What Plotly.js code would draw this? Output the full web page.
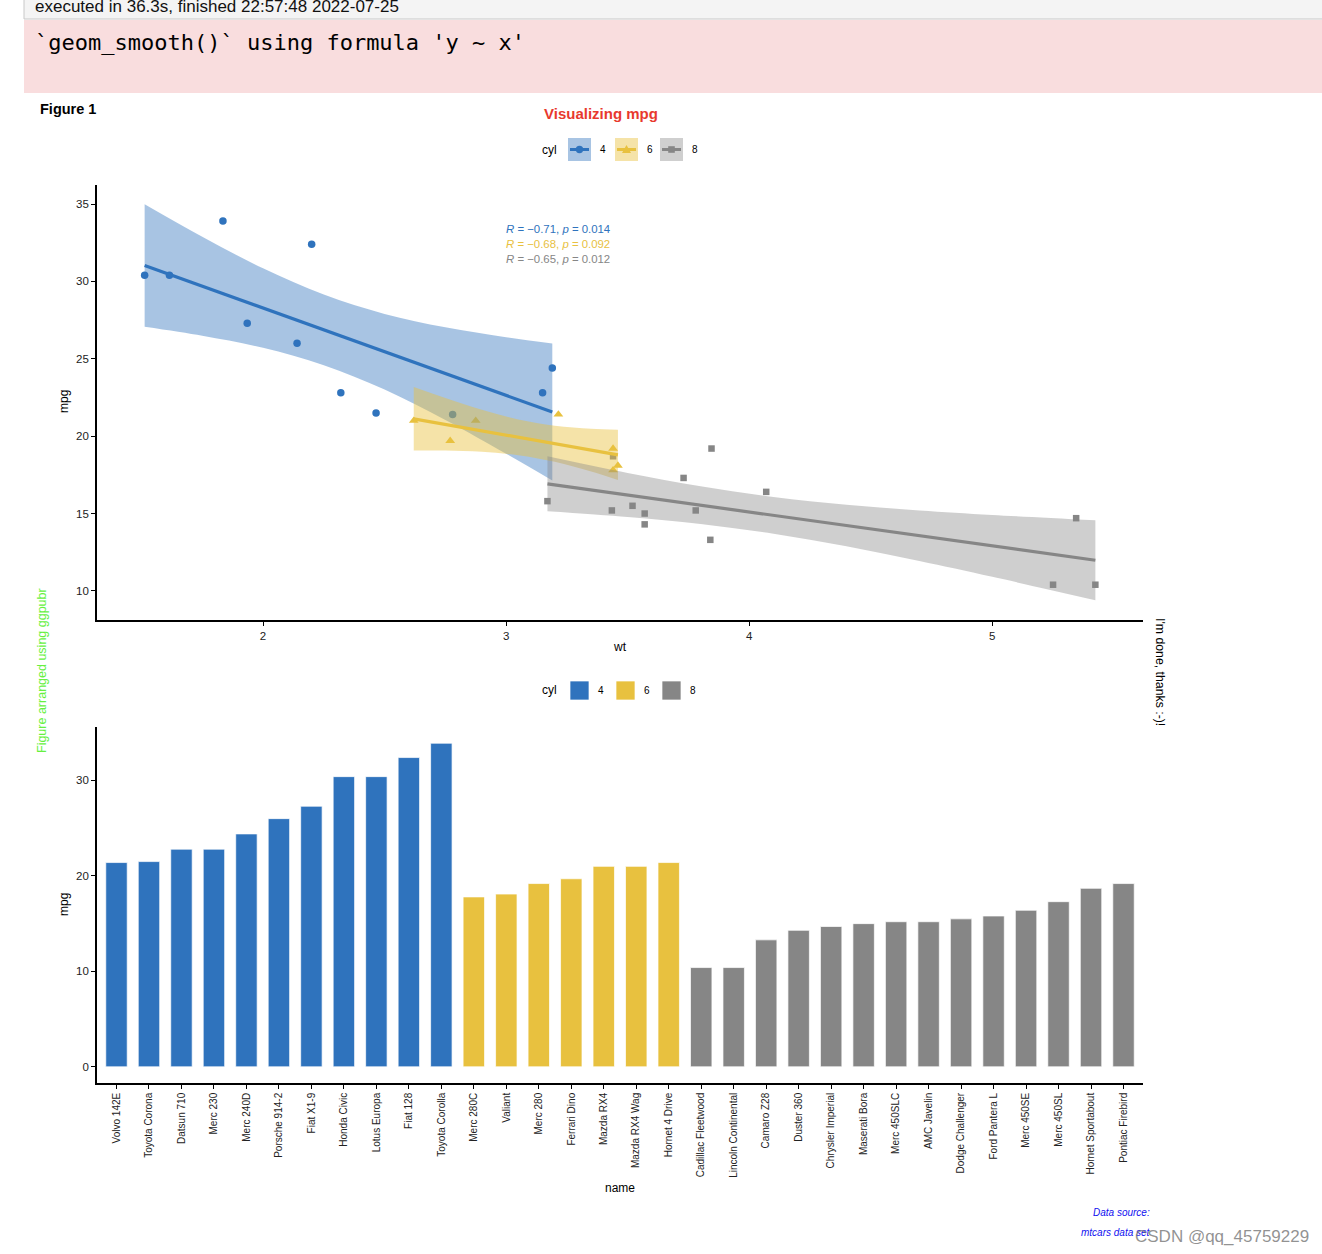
<!DOCTYPE html>
<html><head><meta charset="utf-8">
<script src="https://cdn.plot.ly/plotly-3.0.1.min.js"></script>
<style>html,body{margin:0;padding:0;background:#fff;overflow:hidden;} #chart{width:1322px;height:1254px;}</style>
</head><body><div id="chart"></div>
<script>
// ---- data (mtcars) ----
const wt4 = [2.320, 3.190, 3.150, 2.200, 1.615, 1.835, 2.465, 1.935, 2.140, 1.513, 2.780];
const mpg4 = [22.8, 24.4, 22.8, 32.4, 30.4, 33.9, 21.5, 27.3, 26.0, 30.4, 21.4];
const wt6 = [2.620, 2.875, 3.215, 3.460, 3.440, 3.440, 2.770];
const mpg6 = [21.0, 21.0, 21.4, 18.1, 19.2, 17.8, 19.7];
const wt8 = [3.440, 3.570, 4.070, 3.730, 3.780, 5.250, 5.424, 5.345, 3.520, 3.435, 3.840, 3.845, 3.170, 3.570];
const mpg8 = [18.7, 14.3, 16.4, 17.3, 15.2, 10.4, 10.4, 14.7, 15.5, 15.2, 13.3, 19.2, 15.8, 15.0];

// smooth lines and confidence bands
const fit4X = [1.513, 3.19], fit4Y = [31.03, 21.56];
const fit6X = [2.62, 3.46], fit6Y = [21.12, 18.79];
const fit8X = [3.17, 5.424], fit8Y = [16.92, 11.98];
const band4X = [1.513, 1.75, 2.0, 2.25, 2.5, 2.75, 3.0, 3.19];
const band4Lo = [27.07, 26.49, 25.71, 24.59, 23.01, 21.05, 18.87, 17.14];
const band4Hi = [34.98, 32.88, 30.85, 29.15, 27.90, 27.03, 26.39, 25.98];
const band6X = [2.62, 2.75, 2.9, 3.05, 3.2, 3.35, 3.46];
const band6Lo = [19.08, 19.07, 18.99, 18.77, 18.34, 17.71, 17.16];
const band6Hi = [23.17, 22.46, 21.70, 21.08, 20.68, 20.48, 20.42];
const band8X = [3.17, 3.5, 3.8, 4.1, 4.4, 4.7, 5.0, 5.424];
const band8Lo = [15.14, 14.77, 14.32, 13.69, 12.88, 11.93, 10.91, 9.40];
const band8Hi = [18.70, 17.62, 16.76, 16.07, 15.57, 15.20, 14.91, 14.56];
const statLabels = ["<i>R</i> = −0.71, <i>p</i> = 0.014", "<i>R</i> = −0.68, <i>p</i> = 0.092", "<i>R</i> = −0.65, <i>p</i> = 0.012"];

const carNames = ["Volvo 142E","Toyota Corona","Datsun 710","Merc 230","Merc 240D","Porsche 914-2","Fiat X1-9","Honda Civic","Lotus Europa","Fiat 128","Toyota Corolla","Merc 280C","Valiant","Merc 280","Ferrari Dino","Mazda RX4","Mazda RX4 Wag","Hornet 4 Drive","Cadillac Fleetwood","Lincoln Continental","Camaro Z28","Duster 360","Chrysler Imperial","Maserati Bora","Merc 450SLC","AMC Javelin","Dodge Challenger","Ford Pantera L","Merc 450SE","Merc 450SL","Hornet Sportabout","Pontiac Firebird"];
const carMpg = [21.4,21.5,22.8,22.8,24.4,26.0,27.3,30.4,30.4,32.4,33.9,17.8,18.1,19.2,19.7,21.0,21.0,21.4,10.4,10.4,13.3,14.3,14.7,15.0,15.2,15.2,15.5,15.8,16.4,17.3,18.7,19.2];
const carCyl = [4,4,4,4,4,4,4,4,4,4,4,6,6,6,6,6,6,6,8,8,8,8,8,8,8,8,8,8,8,8,8,8];
const cylLevels = [4, 6, 8];
const scatterTicks = [2, 3, 4, 5];
const mpgTicksTop = [10, 15, 20, 25, 30, 35];
const mpgTicksBar = [0, 10, 20, 30];

// ---- style ----
const COL = {4: '#2F73BD', 6: '#E8C13F', 8: '#868686'};
const BAND = {4: 'rgba(47,115,189,0.42)', 6: 'rgba(232,193,63,0.45)', 8: 'rgba(134,134,134,0.40)'};
const SYM = {4: 'circle', 6: 'triangle-up', 8: 'square'};
const MSZ = {4: 7.5, 6: 8.5, 8: 6.5};
const FONT = 'Liberation Sans, Arial, Helvetica, sans-serif';
const W = 1322, H = 1254;
const X = p => p / W, Y = p => 1 - p / H;

const pts = {4: [wt4, mpg4], 6: [wt6, mpg6], 8: [wt8, mpg8]};
const fits = {4: [fit4X, fit4Y], 6: [fit6X, fit6Y], 8: [fit8X, fit8Y]};
const bands = {4: [band4X, band4Lo, band4Hi], 6: [band6X, band6Lo, band6Hi], 8: [band8X, band8Lo, band8Hi]};

const traces = [];
cylLevels.forEach(c => {
  traces.push({type: 'scatter', mode: 'markers', x: pts[c][0], y: pts[c][1], xaxis: 'x', yaxis: 'y',
    marker: {color: COL[c], symbol: SYM[c], size: MSZ[c], line: {width: 0}}, showlegend: false, hoverinfo: 'x+y'});
});
cylLevels.forEach(c => {
  traces.push({type: 'scatter', mode: 'lines', x: bands[c][0], y: bands[c][1], xaxis: 'x', yaxis: 'y',
    line: {width: 0, shape: 'spline', color: 'rgba(0,0,0,0)'}, showlegend: false, hoverinfo: 'skip'});
  traces.push({type: 'scatter', mode: 'lines', x: bands[c][0], y: bands[c][2], xaxis: 'x', yaxis: 'y',
    fill: 'tonexty', fillcolor: BAND[c], line: {width: 0, shape: 'spline', color: 'rgba(0,0,0,0)'}, showlegend: false, hoverinfo: 'skip'});
  traces.push({type: 'scatter', mode: 'lines', x: fits[c][0], y: fits[c][1], xaxis: 'x', yaxis: 'y',
    line: {width: 3.2, color: COL[c]}, showlegend: false, hoverinfo: 'skip'});
});
cylLevels.forEach(c => {
  const xs = [], ys = [];
  carNames.forEach((n, i) => { if (carCyl[i] === c) { xs.push(n); ys.push(carMpg[i]); } });
  traces.push({type: 'bar', x: xs, y: ys, xaxis: 'x2', yaxis: 'y2', width: 0.66,
    marker: {color: COL[c], line: {color: 'rgba(255,255,255,0.7)', width: 1}}, showlegend: false});
});

const axBase = {showgrid: false, zeroline: false, showline: true, linecolor: '#000', linewidth: 1.6,
  ticks: 'outside', ticklen: 4, tickwidth: 1.4, tickcolor: '#000', mirror: false,
  tickfont: {family: FONT, size: 11.5, color: '#222'}};

const shapes = [];
const ann = [];
// header
shapes.push({type: 'rect', xref: 'paper', yref: 'paper', x0: X(24), x1: X(1330), y0: Y(-10), y1: Y(19),
  fillcolor: '#F4F4F4', line: {color: '#C8C8C8', width: 1}, layer: 'below'});
shapes.push({type: 'rect', xref: 'paper', yref: 'paper', x0: X(24), x1: X(1330), y0: Y(20), y1: Y(93),
  fillcolor: '#F9DDDE', line: {width: 0}, layer: 'below'});
ann.push({xref: 'paper', yref: 'paper', x: X(33), y: Y(6), xanchor: 'left', yanchor: 'middle', showarrow: false,
  text: 'executed in 36.3s, finished 22:57:48 2022-07-25', font: {family: FONT, size: 17, color: '#111'}});
ann.push({xref: 'paper', yref: 'paper', x: X(33), y: Y(43), xanchor: 'left', yanchor: 'middle', showarrow: false,
  text: '`geom_smooth()` using formula \'y ~ x\'', font: {family: 'DejaVu Sans Mono, monospace', size: 22, color: '#000'}});
// titles
ann.push({xref: 'paper', yref: 'paper', x: X(38), y: Y(109), xanchor: 'left', yanchor: 'middle', showarrow: false,
  text: '<b>Figure 1</b>', font: {family: FONT, size: 14.5, color: '#000'}});
ann.push({xref: 'paper', yref: 'paper', x: X(601), y: Y(113), xanchor: 'center', yanchor: 'middle', showarrow: false,
  text: '<b>Visualizing mpg</b>', font: {family: FONT, size: 15, color: '#E8392E'}});

// legends
function legend(yc, boxes, top) {
  ann.push({xref: 'paper', yref: 'paper', x: X(549), y: Y(yc), xanchor: 'center', yanchor: 'middle', showarrow: false,
    text: 'cyl', font: {family: FONT, size: 12, color: '#000'}});
  cylLevels.forEach((c, i) => {
    const b = boxes[i];
    const cx = (b[0] + b[2]) / 2, cy = (b[1] + b[3]) / 2;
    if (top) {
      shapes.push({type: 'rect', xref: 'paper', yref: 'paper', x0: X(b[0]), x1: X(b[2]), y0: Y(b[1]), y1: Y(b[3]),
        fillcolor: BAND[c], line: {width: 0}});
      shapes.push({type: 'line', xref: 'paper', yref: 'paper', x0: X(b[0] + 2), x1: X(b[2] - 2), y0: Y(cy), y1: Y(cy),
        line: {color: COL[c], width: 3}});
      if (c === 4) shapes.push({type: 'circle', xref: 'paper', yref: 'paper', x0: X(cx - 3.7), x1: X(cx + 3.7), y0: Y(cy - 3.7), y1: Y(cy + 3.7), fillcolor: COL[c], line: {width: 0}});
      if (c === 6) shapes.push({type: 'path', xref: 'paper', yref: 'paper', path: `M ${X(cx - 4.5)} ${Y(cy + 3.5)} L ${X(cx + 4.5)} ${Y(cy + 3.5)} L ${X(cx)} ${Y(cy - 4.5)} Z`, fillcolor: COL[c], line: {width: 0}});
      if (c === 8) shapes.push({type: 'rect', xref: 'paper', yref: 'paper', x0: X(cx - 3.3), x1: X(cx + 3.3), y0: Y(cy - 3.3), y1: Y(cy + 3.3), fillcolor: COL[c], line: {width: 0}});
    } else {
      shapes.push({type: 'rect', xref: 'paper', yref: 'paper', x0: X(b[0]), x1: X(b[2]), y0: Y(b[1]), y1: Y(b[3]),
        fillcolor: COL[c], line: {color: 'rgba(255,255,255,0.7)', width: 1}});
    }
    ann.push({xref: 'paper', yref: 'paper', x: X(b[2] + 12), y: Y(yc), xanchor: 'center', yanchor: 'middle', showarrow: false,
      text: String(c), font: {family: FONT, size: 10, color: '#000'}});
  });
}
legend(150, [[568, 138, 591, 161], [615, 138, 638, 161], [660, 138, 683, 161]], true);
legend(690, [[570, 681, 589, 700], [616, 681, 635, 700], [662, 681, 681, 700]], false);

// stat labels
cylLevels.forEach((c, i) => {
  ann.push({xref: 'paper', yref: 'paper', x: X(504), y: Y(229 + 15 * i), xanchor: 'left', yanchor: 'middle', showarrow: false,
    text: statLabels[i], font: {family: FONT, size: 11.4, color: COL[c]}});
});
// axis titles
ann.push({xref: 'paper', yref: 'paper', x: X(620), y: Y(647), xanchor: 'center', yanchor: 'middle', showarrow: false, text: 'wt', font: {family: FONT, size: 12, color: '#000'}});
ann.push({xref: 'paper', yref: 'paper', x: X(64), y: Y(402), xanchor: 'center', yanchor: 'middle', showarrow: false, textangle: -90, text: 'mpg', font: {family: FONT, size: 12, color: '#000'}});
ann.push({xref: 'paper', yref: 'paper', x: X(64), y: Y(905), xanchor: 'center', yanchor: 'middle', showarrow: false, textangle: -90, text: 'mpg', font: {family: FONT, size: 12, color: '#000'}});
ann.push({xref: 'paper', yref: 'paper', x: X(620), y: Y(1188), xanchor: 'center', yanchor: 'middle', showarrow: false, text: 'name', font: {family: FONT, size: 12, color: '#000'}});
// side texts
ann.push({xref: 'paper', yref: 'paper', x: X(42), y: Y(671), xanchor: 'center', yanchor: 'middle', showarrow: false, textangle: -90,
  text: 'Figure arranged using ggpubr', font: {family: FONT, size: 12.5, color: '#66F03F'}});
ann.push({xref: 'paper', yref: 'paper', x: X(1160), y: Y(672), xanchor: 'center', yanchor: 'middle', showarrow: false, textangle: 90,
  text: "I'm done, thanks :-)!", font: {family: FONT, size: 12.3, color: '#000'}});
ann.push({xref: 'paper', yref: 'paper', x: X(1152), y: Y(1212), xanchor: 'right', yanchor: 'middle', showarrow: false,
  text: '<i>Data source:</i>', font: {family: FONT, size: 10, color: '#1010F0'}});
ann.push({xref: 'paper', yref: 'paper', x: X(1153), y: Y(1232), xanchor: 'right', yanchor: 'middle', showarrow: false,
  text: '<i>mtcars data set</i>', font: {family: FONT, size: 10, color: '#1010F0'}});
ann.push({xref: 'paper', yref: 'paper', x: X(1222), y: Y(1236), xanchor: 'center', yanchor: 'middle', showarrow: false,
  text: 'CSDN @qq_45759229', font: {family: FONT, size: 17, color: 'rgba(110,110,110,0.75)'}});

const layout = {
  width: W, height: H, margin: {l: 0, r: 0, t: 0, b: 0}, paper_bgcolor: '#fff', plot_bgcolor: 'rgba(0,0,0,0)',
  showlegend: false, font: {family: FONT},
  xaxis: Object.assign({}, axBase, {domain: [X(97), X(1143)], anchor: 'y', range: [1.317, 5.62], tickvals: scatterTicks, ticktext: scatterTicks.map(String)}),
  yaxis: Object.assign({}, axBase, {domain: [Y(620), Y(185)], anchor: 'x', range: [8.12, 36.23], tickvals: mpgTicksTop, ticktext: mpgTicksTop.map(String)}),
  xaxis2: Object.assign({}, axBase, {domain: [X(97), X(1143)], anchor: 'y2', type: 'category', categoryorder: 'array', categoryarray: carNames,
    range: [-0.6, 31.6], tickangle: -90, tickfont: {family: FONT, size: 10, color: '#222'}}),
  yaxis2: Object.assign({}, axBase, {domain: [Y(1083), Y(727)], anchor: 'x2', range: [-1.695, 35.6], tickvals: mpgTicksBar, ticktext: mpgTicksBar.map(String)}),
  bargap: 0.3,
  shapes: shapes, annotations: ann
};
Plotly.newPlot('chart', traces, layout, {displayModeBar: false, responsive: false});
</script></body></html>
